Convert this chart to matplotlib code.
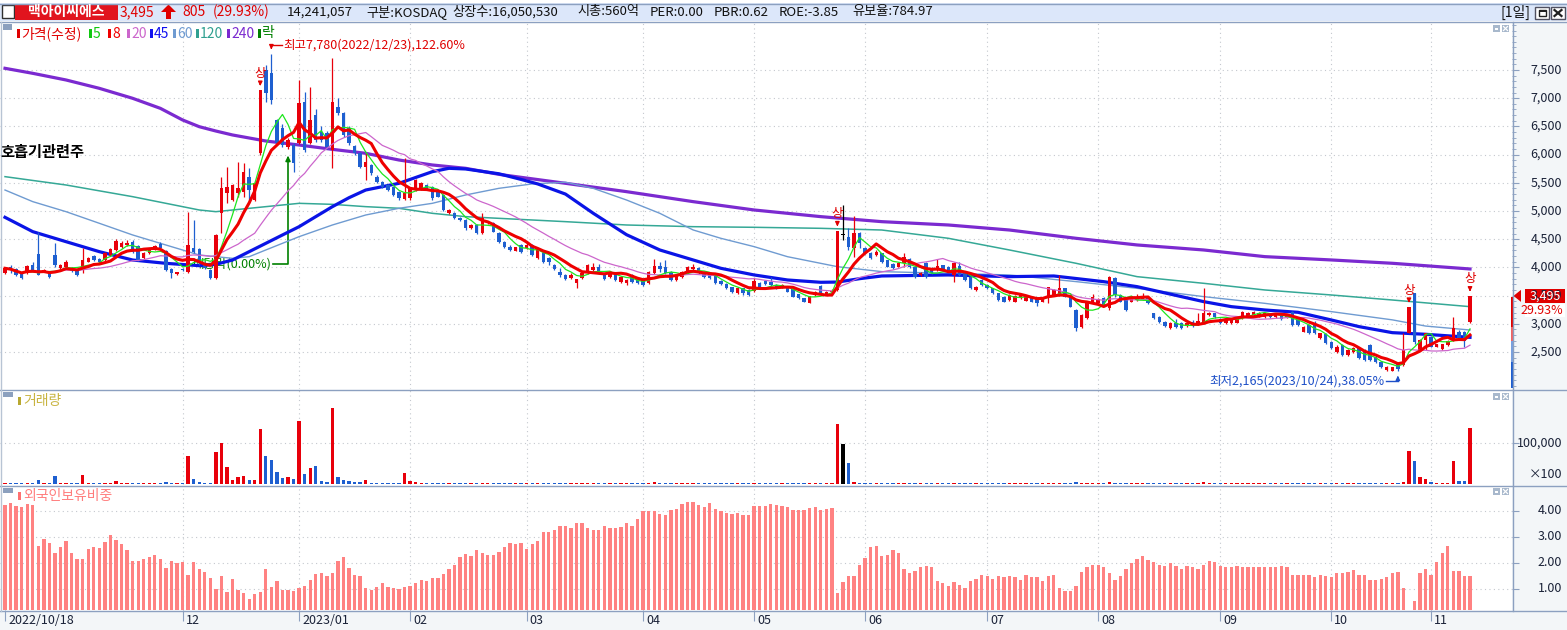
import numpy as np
import pandas as pd
import matplotlib
matplotlib.use('Agg')
import matplotlib.pyplot as plt
from matplotlib.patches import Rectangle, Polygon

plt.rcParams['font.family'] = ['Noto Sans CJK KR', 'DejaVu Sans']
plt.rcParams['axes.unicode_minus'] = False

# ---------------- data ----------------
opens = [3895, 4013, 3966, 3895, 3895, 4037, 4232, 3925, 3925, 4220,
         3984, 4013, 3995, 3954, 3954, 4102, 4202, 4150, 4131, 4220,
         4309, 4368, 4397, 4456, 4380, 4161, 4250, 4309, 4409, 4291,
         3966, 3890, 3975, 3925, 4338, 4320, 4084, 3954, 3806, 4959,
         5313, 5195, 5313, 5343, 5609, 5195, 6023, 7500, 7440, 6614,
         6466, 6141, 6170, 6200, 6939, 6200, 6700, 6407, 6377, 6082,
         6850, 6732, 6480, 6150, 6023, 5786, 5816, 5609, 5520, 5461,
         5432, 5343, 5207, 5225, 5372, 5402, 5461, 5432, 5343, 5284,
         4959, 4959, 4870, 4841, 4693, 4752, 4604, 4782, 4782, 4604,
         4456, 4356, 4297, 4397, 4338, 4397, 4161, 4249, 4160, 4042,
         3924, 3865, 3806, 3717, 3806, 3895, 3954, 4013, 3876, 3824,
         3895, 3747, 3717, 3865, 3806, 3776, 3717, 3895, 4025, 4000,
         3924, 3776, 3835, 3895, 3966, 3995, 3924, 3906, 3865, 3764,
         3706, 3650, 3540, 3630, 3600, 3587, 3717, 3759, 3747, 3688,
         3640, 3658, 3611, 3523, 3451, 3375, 3510, 3670, 3530, 3560,
         3599, 4580, 4533, 4338, 4604, 4350, 4261, 4220, 4249, 4131,
         4060, 4013, 4072, 4143, 4013, 3865, 4072, 3984, 3954, 4037,
         4013, 3865, 4025, 3895, 3824, 3599, 3777, 3688, 3629, 3540,
         3481, 3422, 3392, 3451, 3410, 3481, 3451, 3392, 3481, 3510,
         3510, 3629, 3481, 3245, 2949, 3097, 3392, 3363, 3463, 3274,
         3806, 3510, 3469, 3392, 3422, 3434, 3463, 3185, 3115, 3038,
         2920, 3008, 3020, 2961, 3038, 2979, 3008, 3156, 3185, 3085,
         3008, 3008, 3020, 3097, 3138, 3156, 3156, 3126, 3156, 3115,
         3156, 3115, 3215, 3067, 2860, 2979, 3008, 2742, 2819, 2683,
         2506, 2624, 2447, 2507, 2566, 2536, 2625, 2418, 2329, 2181,
         2170, 2300, 2270, 2843, 3540, 2536, 2713, 2760, 2595, 2550,
         2624, 2713, 2861, 2861, 3038]
highs = [4000, 4043, 3990, 3910, 4040, 4102, 4634, 3970, 3940, 4427,
         4060, 4130, 4010, 3970, 4338, 4190, 4220, 4170, 4270, 4350,
         4510, 4460, 4480, 4490, 4400, 4280, 4330, 4400, 4456, 4310,
         3990, 3920, 3990, 4988, 4841, 4340, 4100, 3970, 4600, 5609,
         5786, 5480, 5875, 5845, 5757, 5520, 7140, 7580, 7780, 6640,
         6550, 6300, 6200, 7323, 7116, 7200, 6800, 6500, 6420, 7707,
         7000, 6760, 6500, 6170, 6040, 6023, 5840, 5640, 5540, 5480,
         5450, 5360, 5934, 5420, 5570, 5520, 5480, 5450, 5360, 5300,
         5040, 4980, 4890, 4860, 4770, 4770, 4959, 4830, 4800, 4620,
         4470, 4400, 4370, 4410, 4430, 4420, 4340, 4270, 4190, 4060,
         3983, 3880, 3895, 3800, 3910, 4060, 4072, 4054, 3890, 3940,
         3910, 3850, 3790, 3880, 3820, 3790, 3940, 4143, 4100, 4130,
         3940, 3880, 3940, 4020, 4054, 4010, 3940, 3920, 3880, 3780,
         3720, 3660, 3640, 3640, 3610, 3806, 3747, 3770, 3835, 3700,
         3700, 3670, 3629, 3530, 3460, 3500, 3580, 3680, 3590, 3611,
         4651, 5106, 4693, 4911, 4620, 4370, 4280, 4300, 4260, 4140,
         4070, 4100, 4261, 4160, 4030, 3910, 4090, 4000, 4143, 4050,
         4030, 4090, 4102, 3910, 3840, 3670, 3790, 3700, 3640, 3550,
         3490, 3520, 3510, 3530, 3500, 3490, 3460, 3470, 3660, 3620,
         3865, 3640, 3490, 3260, 3170, 3410, 3522, 3450, 3480, 3850,
         3836, 3520, 3480, 3500, 3522, 3540, 3480, 3200, 3130, 3050,
         3030, 3080, 3030, 3020, 3068, 3185, 3629, 3210, 3200, 3100,
         3090, 3080, 3130, 3230, 3215, 3230, 3215, 3200, 3170, 3170,
         3170, 3170, 3230, 3080, 2960, 2990, 3050, 2845, 2830, 2700,
         2625, 2640, 2550, 2580, 2580, 2550, 2640, 2430, 2340, 2250,
         2240, 2320, 2831, 3295, 3546, 2730, 2840, 2780, 2650, 2650,
         2720, 3127, 2890, 2880, 3495]
lows = [3880, 3895, 3850, 3790, 3880, 3940, 3860, 3910, 3820, 4013,
        3970, 4000, 3920, 3850, 3895, 4090, 4110, 4090, 4120, 4200,
        4290, 4350, 4380, 4260, 4110, 4150, 4240, 4300, 4320, 3940,
        3806, 3870, 3930, 3895, 4250, 4050, 3970, 3800, 3800, 4604,
        5136, 5180, 5254, 5254, 5195, 5180, 6000, 6930, 6900, 6180,
        6141, 6100, 5698, 6180, 6050, 6180, 6230, 6230, 6100, 5757,
        6700, 6320, 6170, 6000, 5760, 5550, 5640, 5500, 5410, 5350,
        5260, 5200, 5195, 5200, 5350, 5380, 5390, 5200, 5240, 5000,
        4940, 4850, 4820, 4670, 4680, 4590, 4590, 4770, 4620, 4440,
        4340, 4295, 4290, 4260, 4320, 4200, 4150, 4080, 4042, 3960,
        3835, 3770, 3790, 3640, 3790, 3880, 3940, 3880, 3780, 3810,
        3760, 3730, 3690, 3730, 3700, 3670, 3700, 3880, 3925, 3880,
        3760, 3760, 3820, 3880, 3950, 3890, 3820, 3790, 3710, 3690,
        3610, 3540, 3530, 3510, 3500, 3570, 3640, 3690, 3670, 3610,
        3630, 3555, 3470, 3440, 3380, 3360, 3500, 3520, 3520, 3540,
        3580, 4486, 4309, 4190, 4338, 4230, 4150, 4200, 4080, 4000,
        3970, 4000, 4013, 3995, 3820, 3850, 3820, 3880, 3940, 3940,
        3910, 3747, 3850, 3760, 3610, 3590, 3670, 3610, 3520, 3410,
        3380, 3410, 3380, 3440, 3400, 3380, 3315, 3380, 3363, 3500,
        3490, 3470, 3290, 2870, 2930, 3080, 3380, 3350, 3320, 3250,
        3480, 3380, 3230, 3380, 3410, 3420, 3350, 3080, 3020, 2950,
        2910, 2930, 2910, 2950, 2950, 2970, 2990, 3140, 3100, 2990,
        2990, 2995, 3010, 3080, 3130, 3140, 3126, 3110, 3100, 3100,
        3060, 3100, 2960, 2960, 2850, 2820, 2820, 2730, 2650, 2550,
        2490, 2430, 2430, 2490, 2370, 2340, 2340, 2310, 2220, 2170,
        2170, 2165, 2250, 2830, 2640, 2520, 2536, 2580, 2580, 2540,
        2610, 2700, 2730, 2595, 3020]
closes = [3984, 3954, 3866, 3806, 4025, 3954, 3866, 3954, 3836, 4043,
          4043, 4102, 3936, 3866, 4131, 4161, 4131, 4102, 4250, 4326,
          4474, 4427, 4440, 4280, 4131, 4262, 4309, 4385, 4338, 3954,
          3895, 3910, 3954, 4397, 4280, 4072, 3984, 3806, 4575, 5402,
          5432, 5461, 5402, 5698, 5372, 5491, 7140, 7086, 6960, 6200,
          6170, 6259, 5845, 6909, 6082, 6614, 6259, 6259, 6141, 6939,
          6732, 6348, 6200, 6023, 5786, 5875, 5668, 5520, 5432, 5372,
          5284, 5225, 5313, 5402, 5550, 5491, 5402, 5225, 5254, 5018,
          5018, 4870, 4841, 4693, 4752, 4604, 4870, 4811, 4634, 4456,
          4356, 4308, 4356, 4279, 4397, 4220, 4320, 4101, 4101, 3972,
          3865, 3788, 3865, 3794, 3895, 4042, 4013, 3895, 3794, 3924,
          3776, 3835, 3776, 3747, 3717, 3688, 3924, 4025, 3966, 3895,
          3776, 3865, 3924, 4000, 4013, 3906, 3835, 3806, 3729, 3706,
          3629, 3570, 3629, 3540, 3510, 3764, 3658, 3700, 3688, 3629,
          3688, 3570, 3481, 3451, 3392, 3493, 3570, 3540, 3570, 3580,
          4651, 4580, 4368, 4616, 4427, 4250, 4161, 4279, 4102, 4013,
          3984, 4084, 4178, 4013, 3836, 3900, 3836, 3895, 4025, 3954,
          3924, 4072, 3865, 3777, 3629, 3658, 3688, 3629, 3540, 3422,
          3392, 3510, 3493, 3510, 3493, 3392, 3363, 3451, 3647, 3599,
          3629, 3481, 3304, 2920, 3150, 3363, 3469, 3434, 3333, 3836,
          3510, 3392, 3245, 3481, 3481, 3493, 3363, 3097, 3038, 2961,
          3020, 2949, 2920, 3008, 2961, 3056, 3185, 3197, 3115, 3008,
          3079, 3067, 3115, 3215, 3185, 3215, 3197, 3185, 3115, 3156,
          3079, 3156, 2979, 2979, 2949, 2831, 2831, 2831, 2665, 2565,
          2594, 2447, 2535, 2566, 2388, 2359, 2359, 2329, 2240, 2240,
          2229, 2200, 2536, 3295, 2684, 2713, 2832, 2595, 2636, 2636,
          2700, 2920, 2743, 2690, 3495]
volumes = [2400, 2400, 2400, 2400, 2400, 2400, 9700, 2400, 2400, 19000,
           2400, 2400, 2400, 2400, 22000, 2400, 2400, 2400, 2400, 2400,
           7000, 2400, 2400, 2400, 2400, 2400, 2400, 2400, 2400, 5600,
           2400, 2400, 2400, 68000, 12000, 5600, 2400, 2400, 78000, 100000,
           41000, 9700, 17000, 19000, 9700, 9700, 133000, 68000, 58000, 29000,
           14500, 17000, 12000, 152000, 24000, 39000, 43500, 7000, 5000, 184000,
           17000, 9700, 7000, 5000, 5000, 9700, 2400, 2400, 2400, 2400,
           2400, 2400, 26600, 7000, 5000, 3000, 2400, 2400, 2400, 2400,
           2400, 2000, 2000, 2400, 2000, 2000, 3500, 2000, 2000, 2000,
           2000, 1800, 1800, 2000, 2000, 2000, 2400, 2000, 2000, 1800,
           1800, 1800, 1800, 2000, 2000, 3500, 2400, 2000, 1800, 2000,
           1800, 1800, 1800, 1800, 1800, 1800, 3000, 4500, 2400, 2400,
           2000, 1800, 1800, 2000, 2000, 1800, 1800, 1800, 1800, 1800,
           1800, 1800, 1800, 1800, 1800, 3500, 2000, 1800, 1800, 1800,
           1800, 1800, 1800, 1800, 1800, 1800, 1800, 2400, 1800, 1800,
           145000, 98000, 50000, 5000, 3500, 2400, 2000, 2000, 2000, 1800,
           1800, 1800, 2400, 1800, 1800, 1800, 2000, 1800, 2000, 1800,
           1800, 2400, 2000, 1800, 2000, 1800, 1800, 1800, 1800, 1800,
           1800, 1800, 1800, 1800, 1800, 1800, 1800, 1800, 3000, 2000,
           3500, 2000, 2000, 4000, 3000, 2400, 2000, 1800, 1800, 5000,
           3500, 2000, 2000, 1800, 1800, 1800, 1800, 2400, 1800, 1800,
           1800, 1800, 1800, 1800, 1800, 2000, 4500, 2000, 1800, 1800,
           1800, 1800, 1800, 2000, 1800, 1800, 1800, 1800, 1800, 1800,
           1800, 1800, 2400, 1800, 1800, 1800, 2000, 1800, 2000, 2000,
           1800, 2000, 1800, 1800, 2000, 2000, 2400, 1800, 2000, 1800,
           1800, 2400, 5000, 80000, 55000, 17000, 11000, 4000, 2000, 2000,
           3000, 55000, 8000, 8000, 135000]          # units of 100 shares
foreign = [4.22, 4.29, 4.18, 4.14, 4.26, 4.22, 2.67, 2.92, 2.75, 2.40,
           2.60, 2.83, 2.40, 2.17, 2.17, 2.52, 2.60, 2.56, 2.79, 3.06,
           2.87, 2.71, 2.48, 2.09, 2.09, 2.17, 2.21, 2.29, 2.17, 1.82,
           2.06, 1.98, 2.02, 1.55, 2.02, 1.75, 1.67, 1.44, 1.01, 1.48,
           0.90, 1.40, 0.97, 0.86, 0.63, 0.82, 0.90, 1.75, 1.09, 1.32,
           0.97, 0.97, 0.94, 1.05, 1.13, 1.36, 1.59, 1.63, 1.48, 1.63,
           2.09, 2.21, 1.79, 1.55, 1.51, 1.05, 0.97, 1.09, 1.21, 1.09,
           1.05, 1.01, 1.09, 1.13, 1.24, 1.36, 1.32, 1.44, 1.44, 1.59,
           1.75, 1.94, 2.21, 2.33, 2.25, 2.48, 2.40, 2.29, 2.29, 2.44,
           2.60, 2.75, 2.71, 2.75, 2.52, 2.71, 2.83, 3.18, 3.18, 3.25,
           3.41, 3.41, 3.33, 3.52, 3.52, 3.33, 3.25, 3.25, 3.41, 3.33,
           3.33, 3.37, 3.52, 3.41, 3.68, 3.99, 3.99, 3.99, 3.87, 3.83,
           4.02, 4.06, 4.26, 4.33, 4.33, 4.22, 4.14, 4.29, 4.06, 3.99,
           3.91, 3.87, 3.91, 3.83, 3.83, 4.18, 4.20, 4.20, 4.27, 4.23,
           4.20, 4.15, 4.05, 4.05, 4.05, 4.12, 4.15, 4.05, 4.08, 4.12,
           0.85, 1.25, 1.48, 1.48, 1.93, 2.18, 2.60, 2.65, 2.25, 2.32,
           2.48, 2.40, 1.75, 1.60, 1.70, 1.83, 1.90, 1.83, 1.30, 1.22,
           1.10, 1.25, 1.15, 1.05, 1.30, 1.40, 1.52, 1.48, 1.40, 1.48,
           1.45, 1.48, 1.45, 1.35, 1.52, 1.45, 1.45, 1.32, 1.50, 1.55,
           1.05, 0.93, 0.93, 1.10, 1.67, 1.86, 1.94, 1.94, 1.83, 1.60,
           1.36, 1.48, 1.78, 1.98, 2.17, 2.25, 2.10, 2.02, 1.94, 1.90,
           1.98, 1.90, 1.78, 1.90, 1.83, 1.78, 1.94, 2.09, 2.02, 1.90,
           1.86, 1.86, 1.90, 1.83, 1.83, 1.86, 1.86, 1.83, 1.86, 1.86,
           1.90, 1.83, 1.55, 1.52, 1.52, 1.52, 1.45, 1.52, 1.48, 1.45,
           1.63, 1.60, 1.67, 1.71, 1.52, 1.55, 1.36, 1.36, 1.40, 1.45,
           1.60, 1.67, 1.05, 0.20, 0.55, 1.60, 1.75, 1.55, 2.05, 2.38,
           2.65, 1.70, 1.70, 1.50, 1.50]

# long moving averages read at sample days (day index, value)
ma45_x = [0, 5, 11, 17, 23, 29, 35, 38, 41, 44, 47, 50, 53, 56, 59, 62, 65, 71, 77, 80,
          83, 89, 93, 96, 101, 106, 112, 118, 124, 129, 135, 141, 147, 150, 154, 158, 170,
          181, 189, 198, 204, 216, 221, 227, 233, 239, 244, 250, 256, 264]
ma45_v = [4888, 4634, 4456, 4279, 4131, 4072, 4031, 4054, 4131, 4279, 4427, 4575, 4722, 4900,
          5077, 5236, 5372, 5491, 5697, 5757, 5745, 5660, 5560, 5480, 5300, 4960, 4580, 4309,
          4132, 3984, 3866, 3777, 3736, 3740, 3800, 3848, 3866, 3836, 3848, 3747, 3659, 3393,
          3304, 3245, 3204, 3068, 2950, 2843, 2814, 2760]
ma60_x = [0, 5, 11, 17, 23, 29, 35, 41, 44, 47, 50, 53, 59, 65, 71, 77, 83, 89, 95, 101,
          106, 112, 118, 124, 129, 135, 141, 147, 150, 158, 170, 181, 193, 204, 216, 227,
          239, 250, 256, 264]
ma60_v = [5372, 5166, 4988, 4782, 4575, 4397, 4220, 4161, 4190, 4309, 4427, 4545, 4752, 4929,
          5048, 5136, 5284, 5402, 5480, 5510, 5402, 5195, 4959, 4664, 4516, 4368, 4190, 4072,
          4013, 3925, 3895, 3866, 3748, 3629, 3482, 3363, 3216, 3070, 2960, 2890]
ma120_x = [0, 11, 23, 35, 38, 47, 53, 59, 65, 71, 77, 83, 89, 101, 112, 124, 135, 147, 158,
           170, 181, 193, 204, 216, 227, 239, 250, 264]
ma120_v = [5609, 5461, 5254, 5018, 4988, 5077, 5136, 5118, 5077, 5048, 4959, 4900, 4870, 4811,
           4752, 4722, 4711, 4693, 4663, 4516, 4309, 4073, 3836, 3718, 3600, 3511, 3422, 3304]
ma240_x = [0, 5, 11, 17, 23, 28, 32, 35, 38, 41, 47, 53, 59, 65, 71, 77, 83, 89, 101, 112,
           124, 135, 147, 158, 170, 181, 193, 204, 216, 227, 239, 250, 264]
ma240_v = [7530, 7441, 7323, 7175, 6998, 6820, 6614, 6495, 6418, 6348, 6241, 6170, 6093, 6023,
           5904, 5816, 5757, 5650, 5491, 5343, 5166, 5018, 4900, 4811, 4752, 4663, 4516, 4398,
           4309, 4191, 4132, 4073, 3972]

month_idx = [0, 32, 53, 73, 94, 115, 135, 155, 177, 197, 219, 239, 257]
month_labels = ['2022/10/18', '12', '2023/01', '02', '03', '04', '05', '06', '07', '08',
                '09', '10', '11']
price_ticks = [2500, 3000, 3500, 4000, 4500, 5000, 5500, 6000, 6500, 7000, 7500]
vol_ticks = [100000]
foreign_ticks = [1.0, 2.0, 3.0, 4.0]
limit_up_idx = [46, 150, 253, 264]
exdiv_idx = 51

# ---------------- styling ----------------
UP, DN, EQ = '#E8000B', '#1E5FD0', '#000000'
BORDER = '#8CA0C0'
SIDE_BG = '#F3F6F8'
TXT = '#1A2238'
GRID = dict(color='#C4C8CE', lw=0.8, ls=(0, (1, 3)), zorder=0)

N = len(closes)
idx = np.arange(N)
O = np.array(opens, float); Hh = np.array(highs, float)
L = np.array(lows, float); C = np.array(closes, float)
cols = np.where(C > O, UP, np.where(C < O, DN, EQ))

W, H = 1567, 630
fig = plt.figure(figsize=(W / 100, H / 100), dpi=100)
fig.patch.set_facecolor('white')


def px_axes(x0, y0, x1, y1, z):
    return fig.add_axes((x0 / W, 1 - y1 / H, (x1 - x0) / W, (y1 - y0) / H), zorder=z)


def px_of(ax, xv, yv):
    d = ax.transData.transform((xv, yv))
    return d[0], H - d[1]


bg = px_axes(0, 0, W, H, 0)
bg.set_xlim(0, W); bg.set_ylim(H, 0); bg.set_axis_off()
bg.add_patch(Rectangle((0, 3), W, 18, fc='#DCE7FA', ec='none'))
bg.add_patch(Rectangle((1512, 22), W - 1512, H - 22, fc=SIDE_BG, ec='none'))
bg.add_patch(Rectangle((0, 611), 1512, 19, fc=SIDE_BG, ec='none'))

step = 1465 / (N - 1)          # px per trading day
xl = (-5 / step, (1512 - 5) / step)

ax_p = px_axes(0, 22, 1512, 389, 5)
ax_v = px_axes(0, 390, 1512, 485, 5)
ax_f = px_axes(0, 486, 1512, 610, 5)
for a in (ax_p, ax_v, ax_f):
    a.set_facecolor('white')
    for s in a.spines.values():
        s.set_visible(False)
    a.set_xlim(*xl)
    a.tick_params(axis='x', which='both', bottom=False, top=False, labelbottom=False)
    a.tick_params(axis='y', which='both', left=False, right=True, labelleft=False,
                  labelright=False, direction='out', color=BORDER)
ax_p.set_ylim(1844, 8351)
ax_v.set_ylim(-2400, 227600)
ax_f.set_ylim(0.19, 4.96)

ax_p.set_yticks(price_ticks)
ax_p.set_yticks(np.arange(1900, 8400, 100), minor=True)
ax_p.tick_params(axis='y', which='major', length=5)
ax_p.tick_params(axis='y', which='minor', length=3)
ax_v.set_yticks(vol_ticks); ax_v.tick_params(axis='y', length=5)
ax_f.set_yticks(foreign_ticks); ax_f.tick_params(axis='y', length=5)
ax_f.set_xticks(month_idx)
ax_f.tick_params(axis='x', bottom=True, length=8, color=BORDER, direction='out')

for a in (ax_p, ax_v, ax_f):
    for m in month_idx[1:]:
        a.axvline(m, **GRID)
for v in price_ticks:
    ax_p.axhline(v, **GRID)
for v in vol_ticks:
    ax_v.axhline(v, **GRID)
for v in foreign_ticks:
    ax_f.axhline(v, **GRID)

# moving averages
cs = pd.Series(C)
ma5 = cs.rolling(5, min_periods=1).mean()
ma8 = cs.rolling(8, min_periods=1).mean()
ma20 = cs.rolling(20, min_periods=1).mean()
ax_p.plot(ma240_x, ma240_v, color='#7B2AD0', lw=2.3, zorder=2, solid_joinstyle='round')
ax_p.plot(ma120_x, ma120_v, color='#35A896', lw=1.1, zorder=2)
ax_p.plot(ma60_x, ma60_v, color='#6F9BD1', lw=1.0, zorder=2)
ax_p.plot(ma45_x, ma45_v, color='#0A14E6', lw=2.3, zorder=2, solid_joinstyle='round')

# candles
ax_p.vlines(idx, L, Hh, colors=cols, lw=0.9, zorder=3)
ax_p.bar(idx, np.maximum(np.abs(C - O), 10), bottom=np.minimum(O, C), width=0.62,
         color=cols, lw=0, zorder=3)
ax_p.plot(idx, ma20, color='#CC66CC', lw=0.9, zorder=4)
ax_p.plot(idx, ma5, color='#1EE61E', lw=0.9, zorder=4)
ax_p.plot(idx, ma8, color='#EE0000', lw=2.2, zorder=4, solid_joinstyle='round')

# volume & foreign holdings
ax_v.bar(idx, volumes, width=0.6, color=cols, lw=0, zorder=3)
ax_f.bar(idx, foreign, width=0.6, color='#FF8282', lw=0, zorder=3)

# ---------------- overlay ----------------
ov = px_axes(0, 0, W, H, 30)
ov.set_xlim(0, W); ov.set_ylim(H, 0); ov.set_axis_off()

for yy in (3.5, 21.5, 389.5, 485.5, 610.5):
    ov.plot([0, W], [yy, yy], color=BORDER, lw=1)
ov.plot([1512.5, 1512.5], [22, 611], color=BORDER, lw=1)
ov.plot([0.5, 0.5], [22, 611], color='#B8C4D4', lw=1)

# header
ov.add_patch(Rectangle((2, 5), 12, 13, fc='white', ec='#303030', lw=1))
ov.add_patch(Rectangle((15, 4), 103, 15.5, fc='#E1141E', ec='none'))
ov.text(66, 12, '맥아이씨에스', color='white', fontsize=10, fontweight='bold',
        ha='center', va='center')
chg = closes[-1] - closes[-2]
pct = chg / closes[-2] * 100
ov.text(120, 12, f'{closes[-1]:,}', color='#E00000', fontsize=10, ha='left', va='center')
ov.add_patch(Polygon([(161, 12), (168.5, 4.5), (176, 12), (171, 12), (171, 19), (166, 19),
                      (166, 12)], closed=True, fc='#E00000', ec='none'))
ov.text(182, 12, f'{chg:,}', color='#E00000', fontsize=10, ha='left', va='center')
ov.text(213, 12, f'({pct:.2f}%)', color='#E00000', fontsize=10, ha='left', va='center')
for xx, s in [(287, '14,241,057'), (366, '구분:KOSDAQ'), (452, '상장수:16,050,530'),
              (577, '시총:560억'), (650, 'PER:0.00'), (714, 'PBR:0.62'),
              (779, 'ROE:-3.85'), (852, '유보율:784.97')]:
    ov.text(xx, 12, s, color='#101010', fontsize=9.5, ha='left', va='center')
ov.text(1531, 12, '[1일]', color='#101010', fontsize=10, ha='right', va='center')
ov.add_patch(Rectangle((1535, 7), 14, 12, fc='white', ec='#505060', lw=1))
ov.add_patch(Rectangle((1538.5, 10), 7, 6, fc='none', ec='#202020', lw=1))
ov.add_patch(Rectangle((1538.5, 10), 7, 2, fc='#202020', ec='none'))
ov.add_patch(Rectangle((1551, 7), 14, 12, fc='white', ec='#505060', lw=1))
ov.plot([1554.5, 1561.5], [10, 16], color='#202020', lw=1.6)
ov.plot([1554.5, 1561.5], [16, 10], color='#202020', lw=1.6)

# panel buttons
for yb in (25, 393, 488):
    ov.add_patch(Rectangle((1493, yb), 7, 7, fc='#A8B8CC', ec='none'))
    ov.add_patch(Rectangle((1494.8, yb + 2.5), 3.4, 2.5, fc='white', ec='none'))
    ov.add_patch(Rectangle((1502, yb), 7, 7, fc='#A8B8CC', ec='none'))
    ov.plot([1503.5, 1507.5], [yb + 1.5, yb + 5.5], color='white', lw=0.9)
    ov.plot([1503.5, 1507.5], [yb + 5.5, yb + 1.5], color='white', lw=0.9)

# legends
ov.add_patch(Rectangle((3, 24), 9, 6, fc='#8CA0BE', ec='none'))
for lab, colr, x0 in [('가격(수정)', '#E00000', 17), ('5', '#10C810', 89), ('8', '#F00000', 108),
                      ('20', '#CC66CC', 127), ('45', '#1010F0', 150), ('60', '#6F9BD1', 173),
                      ('120', '#30A090', 196), ('240', '#7B2AD0', 227), ('락', '#008000', 258)]:
    ov.add_patch(Rectangle((x0, 29), 2.5, 9, fc=colr, ec='none'))
    ov.text(x0 + 4, 33.5, lab, color=colr, fontsize=10, ha='left', va='center')
ov.add_patch(Rectangle((3, 392), 10, 5, fc='#8CA0BE', ec='none'))
ov.add_patch(Rectangle((18, 397), 2.5, 8, fc='#B8A830', ec='none'))
ov.text(23, 401, '거래량', color='#C8B440', fontsize=10, ha='left', va='center')
ov.add_patch(Rectangle((3, 488), 10, 5, fc='#8CA0BE', ec='none'))
ov.add_patch(Rectangle((18, 492), 2.5, 8, fc='#FF7070', ec='none'))
ov.text(23, 496, '외국인보유비중', color='#FF7C7C', fontsize=10, ha='left', va='center')

# right-axis labels
for v in price_ticks:
    _, py = px_of(ax_p, 0, v)
    ov.text(1562, py, f'{v:,}', ha='right', va='center', fontsize=9, color=TXT)
for v in vol_ticks:
    _, py = px_of(ax_v, 0, v)
    ov.text(1562, py, f'{v:,}', ha='right', va='center', fontsize=9, color=TXT)
ov.text(1562, 475, '×100', ha='right', va='center', fontsize=9, color=TXT)
for v in foreign_ticks:
    _, py = px_of(ax_f, 0, v)
    ov.text(1562, py, f'{v:.2f}', ha='right', va='center', fontsize=9, color=TXT)

# month labels
for m, lab in zip(month_idx, month_labels):
    px, _ = px_of(ax_f, m, 1)
    ov.text(px + 3, 621, lab, ha='left', va='center', fontsize=9, color=TXT)

# current price marker
_, pyc = px_of(ax_p, 0, closes[-1])
ov.add_patch(Rectangle((1525, pyc - 7), 40, 14, fc='#E00000', ec='none'))
ov.add_patch(Polygon([(1513.5, pyc), (1521, pyc - 6), (1521, pyc + 6)], closed=True,
                     fc='#E00000', ec='none'))
ov.text(1545, pyc, f'{closes[-1]:,}', color='white', fontsize=9, ha='center', va='center')
ov.add_patch(Rectangle((1525, pyc + 8), 40, 13, fc='white', ec='none'))
ov.text(1563, pyc + 14.5, f'{pct:.2f}%', color='#E00000', fontsize=9, ha='right', va='center')
for y0, y1, cc in [(297, 327, '#E00000'), (327, 341, '#F06464'), (341, 362, '#78A0E0'),
                   (362, 388, '#1E5FD0')]:
    ov.add_patch(Rectangle((1511, y0), 3, y1 - y0, fc=cc, ec='none'))

# upper-limit markers
for u in limit_up_idx:
    px, py = px_of(ax_p, u, highs[u])
    ov.text(px, py - 17, '상', color='#E00000', fontsize=9, ha='center', va='center')
    ov.annotate('', xy=(px, py - 1.5), xytext=(px, py - 10),
                arrowprops=dict(arrowstyle='-|>', color='#E00000', lw=1, mutation_scale=6))

# highest / lowest annotations
imax = int(np.argmax(Hh))
px, py = px_of(ax_p, imax, Hh[imax])
ov.plot([px, px + 11], [py - 9, py - 9], color='#E00000', lw=1)
ov.annotate('', xy=(px, py - 2), xytext=(px, py - 9.5),
            arrowprops=dict(arrowstyle='-|>', color='#E00000', lw=1, mutation_scale=6))
ov.text(px + 12, py - 9, '최고7,780(2022/12/23),122.60%', color='#E00000', fontsize=9,
        ha='left', va='center')

imin = int(np.argmin(L))
px, py = px_of(ax_p, imin, L[imin])
ov.plot([px - 12, px], [py + 10, py + 10], color='#1E50C8', lw=1)
ov.annotate('', xy=(px, py + 2), xytext=(px, py + 10.5),
            arrowprops=dict(arrowstyle='-|>', color='#1E50C8', lw=1, mutation_scale=6))
ov.text(px - 13, py + 10, '최저2,165(2023/10/24),38.05%', color='#1E50C8', fontsize=9,
        ha='right', va='center')

# ex-dividend marker (drawn beneath the candles)
PX = bg.transData
px, py = px_of(ax_p, exdiv_idx, lows[exdiv_idx])
ax_p.plot([px - 15, px, px], [264, 264, py + 12], color='#008000', lw=1.2,
          transform=PX, zorder=1, clip_on=False)
ax_p.annotate('', xy=(px, py + 4), xytext=(px, py + 13), xycoords=PX, textcoords=PX,
              arrowprops=dict(arrowstyle='-|>', color='#008000', lw=1.2, mutation_scale=7),
              zorder=1)
ax_p.text(px - 16, 264, '배당락(0.00%)', color='#008000', fontsize=9, ha='right',
          va='center', transform=PX, zorder=1)

ov.text(0, 152, '호흡기관련주', color='black', fontsize=11, fontweight='bold',
        ha='left', va='center')

fig.savefig('out.png', dpi=100)
